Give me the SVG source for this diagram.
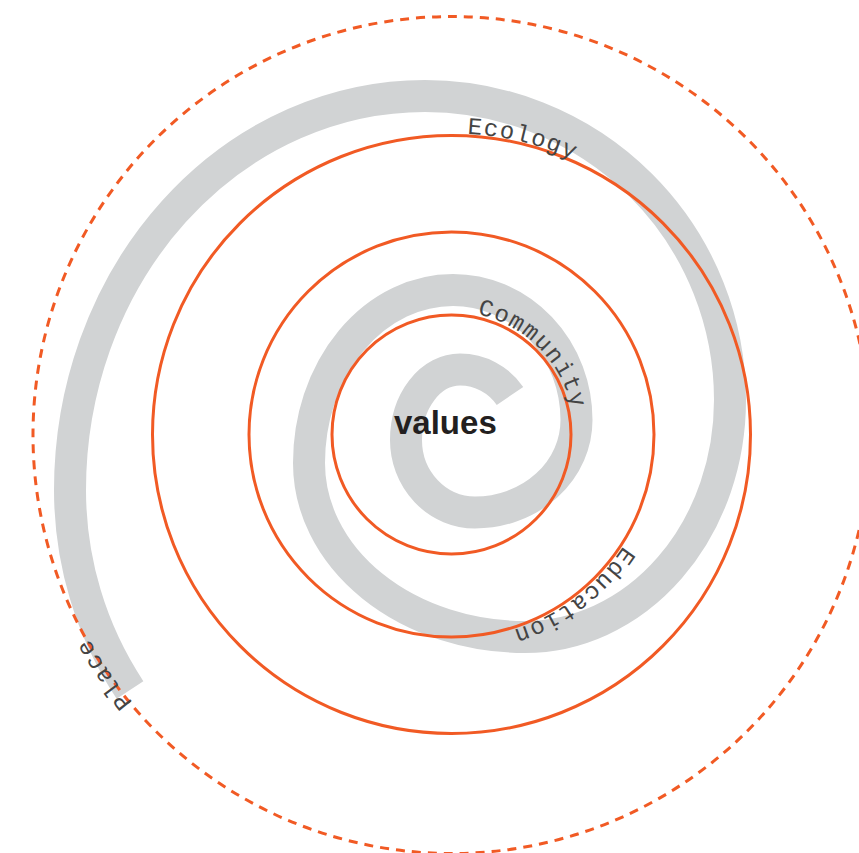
<svg xmlns="http://www.w3.org/2000/svg" width="859" height="853" viewBox="0 0 859 853">
<style>
.ring{fill:none;stroke:#f15a24;stroke-width:3}
.dash{fill:none;stroke:#f15a24;stroke-width:3;stroke-dasharray:9 7}
.spiral{fill:none;stroke:#d1d3d4;stroke-width:32;stroke-linecap:butt}
.lbl{font-family:"Liberation Mono","DejaVu Sans Mono",monospace;font-size:24px;letter-spacing:1.4px;fill:#444444}
.core{font-family:"Liberation Sans",Arial,sans-serif;font-weight:bold;font-size:33px;fill:#231f20}
</style>
<defs>
<path id="pEco" d="M 467.3 133.9 A 301 301 0 0 1 712.2 284"/>
<path id="pCom" d="M 477.1 314.2 A 123 123 0 0 1 572.6 455.9"/>
<path id="pEdu" d="M 623.4 546.1 A 205 205 0 0 1 415.9 636.4"/>
<path id="pPla" d="M 132.8 702.4 A 416 416 0 0 1 41.8 507.2"/>
</defs>
<rect width="859" height="853" fill="#ffffff"/>
<g id="spiral">
<path class="spiral" d="M 510 396 A 60.4 60.5 0 0 0 460 369.5 A 54 70.5 0 0 0 406 440 A 69 72.5 0 0 0 475 512.5 A 101.5 92.5 0 0 0 576.5 420 A 123.5 130 0 0 0 453 290 A 144 173 0 0 0 309 463 A 216 174 0 0 0 525 637 A 205 237 0 0 0 730 400 A 305 304 0 0 0 425 96 A 355 394 0 0 0 70 490 A 360 361.5 0 0 0 130 690"/>
</g>
<g id="connectors">
<circle id="outer-ring" class="dash" cx="451.5" cy="435" r="418.5"/>
<circle id="ring-3" class="ring" cx="451.5" cy="434.5" r="299"/>
<circle id="ring-2" class="ring" cx="451.5" cy="434.5" r="202.5"/>
<circle id="ring-1" class="ring" cx="451.5" cy="434.5" r="119.5"/>
</g>
<g id="values"><text class="core" x="394" y="434">values</text></g>
<g id="ecology"><text class="lbl"><textPath href="#pEco">Ecology</textPath></text></g>
<g id="community"><text class="lbl"><textPath href="#pCom">Community</textPath></text></g>
<g id="education"><text class="lbl"><textPath href="#pEdu">Education</textPath></text></g>
<g id="place"><text class="lbl"><textPath href="#pPla">Place</textPath></text></g>
</svg>
